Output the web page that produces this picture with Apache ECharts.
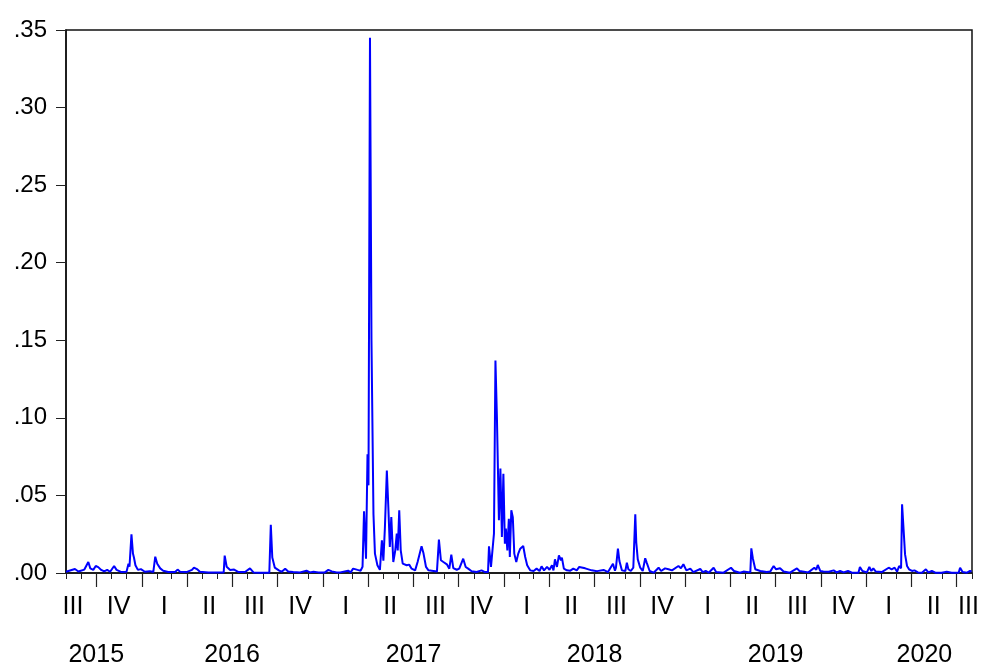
<!DOCTYPE html>
<html>
<head>
<meta charset="utf-8">
<script src="https://cdn.jsdelivr.net/npm/echarts@6/dist/echarts.min.js"></script>
<style>
  html, body { margin: 0; padding: 0; background: #fff; }
  #chart { width: 981px; height: 664px; }
</style>
</head>
<body>
<div id="chart"></div>
<script>
// Sample runs from 1 Aug 2015 to 1 Aug 2020; observations are [days since start, value].
const SAMPLE_START = '2015-08-01';
const SAMPLE_END = '2020-08-01';

const observations = [
  [0,0.0008],[18,0.0026],[25,0.0010],[37,0.0022],[41,0.0012],[45,0.0071],[49,0.0030],[55,0.0020],
  [60,0.0045],[65,0.0038],[71,0.0020],[77,0.0010],[83,0.0020],[89,0.0008],[97,0.0045],[102,0.0020],
  [112,0.0006],[122,0.0008],[126,0.0060],[128,0.0040],[132,0.0250],[135,0.0125],[137,0.0100],[140,0.0050],
  [145,0.0020],[151,0.0025],[159,0.0008],[169,0.0012],[176,0.0006],[180,0.0105],[184,0.0060],[190,0.0030],
  [196,0.0015],[206,0.0006],[220,0.0006],[225,0.0022],[230,0.0008],[243,0.0006],[254,0.0020],[258,0.0035],
  [264,0.0025],[270,0.0008],[287,0.0004],[304,0.0004],[318,0.0004],[320,0.0112],[324,0.0040],[331,0.0020],
  [339,0.0022],[348,0.0006],[361,0.0006],[371,0.0030],[378,0.0004],[391,0.0002],[410,0.0002],[413,0.0310],
  [416,0.0100],[421,0.0035],[425,0.0030],[430,0.0015],[435,0.0008],[442,0.0028],[448,0.0010],[458,0.0006],
  [472,0.0004],[485,0.0015],[492,0.0004],[499,0.0008],[509,0.0004],[522,0.0004],[529,0.0020],[536,0.0010],
  [546,0.0004],[553,0.0004],[569,0.0015],[574,0.0004],[579,0.0028],[588,0.0020],[594,0.0015],[598,0.0040],
  [601,0.0398],[605,0.0092],[608,0.0765],[610,0.0565],[613,0.3450],[616,0.1500],[620,0.0380],[623,0.0125],
  [628,0.0050],[633,0.0020],[637,0.0210],[640,0.0080],[643,0.0286],[647,0.0660],[650,0.0425],[653,0.0168],
  [656,0.0360],[660,0.0071],[664,0.0146],[667,0.0254],[669,0.0146],[672,0.0404],[675,0.0146],[679,0.0060],
  [687,0.0050],[692,0.0054],[697,0.0028],[704,0.0017],[709,0.0071],[713,0.0082],[717,0.0172],[721,0.0125],
  [726,0.0039],[731,0.0017],[741,0.0013],[748,0.0009],[752,0.0215],[756,0.0082],[761,0.0071],[768,0.0056],
  [773,0.0028],[777,0.0118],[781,0.0032],[788,0.0021],[793,0.0028],[801,0.0092],[806,0.0039],[811,0.0028],
  [818,0.0011],[828,0.0006],[838,0.0017],[845,0.0006],[851,0.0006],[853,0.0172],[857,0.0039],[861,0.0050],
  [863,0.0254],[866,0.1370],[869,0.1000],[871,0.0673],[873,0.0340],[876,0.0673],[879,0.0232],[882,0.0640],
  [885,0.0189],[887,0.0286],[890,0.0146],[893,0.0350],[895,0.0103],[898,0.0404],[901,0.0360],[904,0.0125],
  [908,0.0071],[912,0.0125],[916,0.0157],[919,0.0146],[922,0.0174],[926,0.0103],[930,0.0050],[936,0.0017],
  [943,0.0013],[949,0.0028],[955,0.0013],[959,0.0043],[964,0.0017],[970,0.0039],[975,0.0021],[980,0.0050],
  [983,0.0017],[986,0.0088],[990,0.0039],[994,0.0114],[998,0.0082],[1000,0.0099],[1004,0.0028],[1010,0.0017],
  [1017,0.0015],[1023,0.0028],[1030,0.0017],[1035,0.0039],[1047,0.0030],[1060,0.0017],[1071,0.0012],[1084,0.0020],
  [1093,0.0006],[1103,0.0060],[1107,0.0015],[1109,0.0034],[1113,0.0157],[1116,0.0077],[1121,0.0017],[1128,0.0013],
  [1131,0.0067],[1134,0.0024],[1139,0.0013],[1144,0.0034],[1148,0.0378],[1150,0.0196],[1153,0.0088],[1158,0.0034],
  [1163,0.0013],[1168,0.0095],[1171,0.0067],[1177,0.0013],[1185,0.0002],[1195,0.0034],[1200,0.0013],[1208,0.0030],
  [1215,0.0024],[1222,0.0017],[1226,0.0013],[1235,0.0045],[1240,0.0030],[1245,0.0056],[1251,0.0017],[1259,0.0028],
  [1265,0.0006],[1279,0.0026],[1284,0.0006],[1290,0.0013],[1296,0.0002],[1306,0.0034],[1311,0.0006],[1326,0.0002],
  [1341,0.0034],[1347,0.0013],[1359,0.0002],[1366,0.0009],[1380,0.0004],[1382,0.0159],[1385,0.0095],[1390,0.0024],
  [1400,0.0013],[1413,0.0006],[1420,0.0009],[1427,0.0045],[1432,0.0024],[1440,0.0030],[1447,0.0009],[1460,0.0002],
  [1474,0.0030],[1479,0.0013],[1497,0.0004],[1509,0.0034],[1513,0.0021],[1516,0.0052],[1521,0.0013],[1527,0.0009],
  [1531,0.0017],[1538,0.0008],[1548,0.0017],[1554,0.0004],[1561,0.0013],[1568,0.0004],[1577,0.0013],[1585,0.0002],
  [1598,0.0002],[1601,0.0039],[1606,0.0013],[1615,0.0004],[1620,0.0039],[1624,0.0013],[1628,0.0030],[1633,0.0009],
  [1645,0.0006],[1659,0.0034],[1665,0.0024],[1671,0.0034],[1676,0.0009],[1680,0.0045],[1684,0.0030],[1686,0.0443],
  [1690,0.0228],[1692,0.0120],[1696,0.0045],[1700,0.0024],[1706,0.0013],[1711,0.0017],[1718,0.0004],[1726,0.0002],
  [1734,0.0024],[1739,0.0004],[1746,0.0013],[1753,0.0002],[1766,0.0002],[1776,0.0009],[1786,0.0002],[1800,0.0002],
  [1803,0.0034],[1808,0.0006],[1817,0.0002],[1823,0.0013],[1826,0.0008]
];

// Quarter labels, placed near each quarter's middle
const quarterLabels = [
  ['2015-08-15','III'],['2015-11-15','IV'],
  ['2016-02-15','I'],['2016-05-16','II'],['2016-08-15','III'],['2016-11-15','IV'],
  ['2017-02-15','I'],['2017-05-16','II'],['2017-08-15','III'],['2017-11-15','IV'],
  ['2018-02-15','I'],['2018-05-16','II'],['2018-08-15','III'],['2018-11-15','IV'],
  ['2019-02-15','I'],['2019-05-16','II'],['2019-08-15','III'],['2019-11-15','IV'],
  ['2020-02-15','I'],['2020-05-16','II'],['2020-07-25','III']
];

// Year labels
const yearLabels = [
  ['2015-10-01','2015'],['2016-07-01','2016'],['2017-07-02','2017'],
  ['2018-07-02','2018'],['2019-07-02','2019'],['2020-04-27','2020']
];

const DAY = 86400000;
const ts = s => Date.parse(s + 'T00:00:00Z');
const startTs = ts(SAMPLE_START);
const endTs = ts(SAMPLE_END);

const seriesData = observations.map(([d, v]) => [startTs + d * DAY, v]);

// Month and quarter boundaries inside the sample
const monthTicks = [];
const quarterTicks = [];
for (let y = 2015; y <= 2020; y++) {
  for (let m = 0; m < 12; m++) {
    const t = Date.UTC(y, m, 1);
    if (t < startTs || t > endTs) continue;
    monthTicks.push(t);
    if (m % 3 === 0) quarterTicks.push(t);
  }
}

const quarterMap = new Map(quarterLabels.map(([d, l]) => [ts(d), l]));
const yearMap = new Map(yearLabels.map(([d, l]) => [ts(d), l]));

const FONT = "'Liberation Sans', Arial, sans-serif";

const baseX = {
  type: 'value',
  min: startTs,
  max: endTs,
  position: 'bottom',
  splitLine: { show: false }
};

const chart = echarts.init(document.getElementById('chart'), null, { renderer: 'canvas' });
chart.setOption({
  animation: false,
  backgroundColor: '#ffffff',
  grid: {
    left: 66, right: 9, top: 30, bottom: 91,
    outerBoundsMode: 'none',
    containLabel: false,
    show: true, borderColor: '#111', borderWidth: 1.5, backgroundColor: 'transparent'
  },
  xAxis: [
    Object.assign({}, baseX, {
      axisLine: { show: true, lineStyle: { color: '#111', width: 1.5 } },
      axisTick: { show: true, length: 6, customValues: monthTicks, lineStyle: { color: '#222', width: 1 } },
      axisLabel: { show: false }
    }),
    Object.assign({}, baseX, {
      axisLine: { show: false },
      axisTick: { show: true, length: 14, customValues: quarterTicks, lineStyle: { color: '#222', width: 1.2 } },
      axisLabel: {
        show: true, customValues: quarterLabels.map(q => ts(q[0])), margin: 22,
        fontFamily: FONT, fontSize: 25, color: '#000',
        formatter: v => quarterMap.get(v) || ''
      }
    }),
    Object.assign({}, baseX, {
      axisLine: { show: false },
      axisTick: { show: false },
      axisLabel: {
        show: true, customValues: yearLabels.map(q => ts(q[0])), margin: 70,
        fontFamily: FONT, fontSize: 25, color: '#000',
        formatter: v => yearMap.get(v) || ''
      }
    })
  ],
  yAxis: {
    type: 'value',
    min: 0, max: 0.35, interval: 0.05,
    axisLine: { show: true, lineStyle: { color: '#111', width: 1.5 } },
    axisTick: { show: true, length: 10, lineStyle: { color: '#222', width: 1 } },
    splitLine: { show: false },
    axisLabel: {
      margin: 19, fontFamily: FONT, fontSize: 24, color: '#000',
      formatter: v => v.toFixed(2).replace(/^0/, '')
    }
  },
  series: [{
    type: 'line',
    xAxisIndex: 0,
    data: seriesData,
    showSymbol: false,
    lineStyle: { color: '#0000ff', width: 2 },
    itemStyle: { color: '#0000ff' }
  }]
});
</script>
</body>
</html>
